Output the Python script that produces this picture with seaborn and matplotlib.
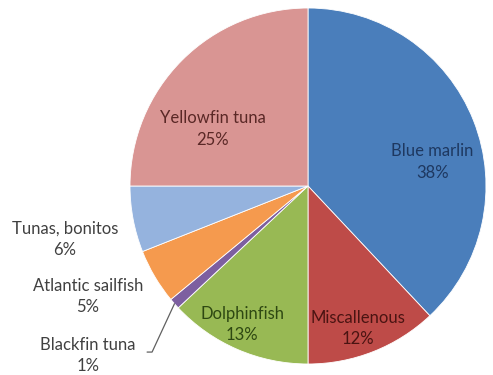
import matplotlib
matplotlib.use("Agg")
import matplotlib.pyplot as plt
import seaborn as sns
import numpy as np

categories = ["Blue marlin", "Miscallenous", "Dolphinfish", "Blackfin tuna",
              "Atlantic sailfish", "Tunas, bonitos", "Yellowfin tuna"]
values = [38, 12, 13, 1, 5, 6, 25]
pct_labels = ["38%", "12%", "13%", "1%", "5%", "6%", "25%"]

colors = ["#4A7EBB", "#BE4B48", "#98B954", "#7D5FA0", "#F59A4E", "#95B3DE", "#D99593"]
text_colors = ["#1E3860", "#4A1412", "#2E4812", "#404040", "#404040", "#404040", "#5A2826"]
# label anchor positions (axes data units, pie radius = 1)
label_pos = [(0.70, 0.135), (0.28, -0.80), (-0.37, -0.78), (-1.236, -0.95),
             (-1.236, -0.62), (-1.365, -0.30), (-0.534, 0.32)]

sns.set_theme(style="white")
plt.rcParams['font.family'] = ['Lato', 'DejaVu Sans']

W, H = 493, 375
fig = plt.figure(figsize=(W / 100, H / 100), dpi=100)
cx, cy, r = 308, 186, 178
ax = fig.add_axes([(cx - r) / W, (H - cy - r) / H, 2 * r / W, 2 * r / H])

wedges, _ = ax.pie(values, colors=colors, startangle=90, counterclock=False,
                   radius=1, center=(0, 0),
                   wedgeprops=dict(linewidth=0.6, edgecolor="white"))
ax.set_xlim(-1, 1)
ax.set_ylim(-1, 1)
ax.set_aspect("equal")
ax.axis("off")

for cat, pct, (x, y), tc in zip(categories, pct_labels, label_pos, text_colors):
    ax.text(x, y, f"{cat}\n{pct}", ha="center", va="center", fontsize=12,
            color=tc, linespacing=1.4, clip_on=False)

# leader line for Blackfin tuna
w = wedges[3]
mid = np.deg2rad((w.theta1 + w.theta2) / 2)
ex, ey = np.cos(mid), np.sin(mid)
ax.plot([-0.904, -0.876, ex], [-0.933, -0.933, ey], color="#606060",
        linewidth=0.9, clip_on=False)

fig.savefig("out.png", dpi=100)
